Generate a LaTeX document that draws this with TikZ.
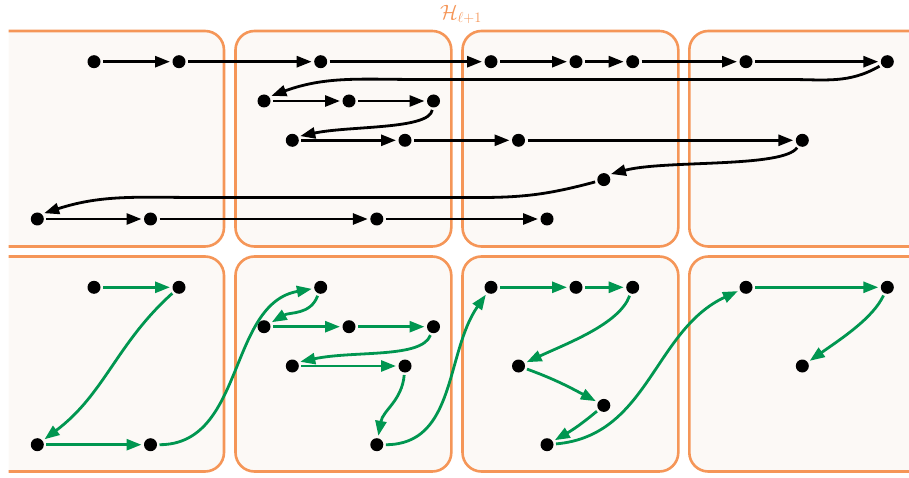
\documentclass[tikz,border=0pt]{standalone}
\usetikzlibrary{arrows.meta}
\definecolor{boxor}{RGB}{245,150,88}
\definecolor{boxfill}{RGB}{252,249,246}
\definecolor{grn}{RGB}{0,150,80}
\tikzset{
  dot/.style={circle,fill=black,inner sep=0pt,minimum size=13pt,outer sep=2.5pt},
  part/.style={draw=boxor,fill=boxfill,line width=2.6pt,rounded corners=19pt},
  blk/.style={line width=2.8pt,-{Triangle[length=15pt,width=11pt]}},
  grnarr/.style={blk,draw=grn,color=grn}
}
\begin{document}
\begin{tikzpicture}[x=1pt,y=1pt]
\useasboundingbox (0,0) rectangle (909,477);
\clip (8.5,0) rectangle (909,477);
% parts, top row
\draw[part] (-30,230.5) rectangle (224,446);
\draw[part] (235.5,230.5) rectangle (451.3,446);
\draw[part] (462.5,230.5) rectangle (678.3,446);
\draw[part] (689.3,230.5) rectangle (940,446);
% parts, bottom row
\draw[part] (-30,5.5) rectangle (224,220.5);
\draw[part] (235.5,5.5) rectangle (451.3,220.5);
\draw[part] (462.5,5.5) rectangle (678.3,220.5);
\draw[part] (689.3,5.5) rectangle (940,220.5);
\node[text=boxor,font=\fontsize{22}{26}\selectfont,inner sep=0pt] (title) at (461,462.5) {$\mathcal{H}_{\ell+1}$};
% top nodes
\node[dot] (t94)  at (94,415.3) {};
\node[dot] (t179) at (179,415.3) {};
\node[dot] (t321) at (320.7,415.3) {};
\node[dot] (t491) at (491,415.3) {};
\node[dot] (t576) at (576,415.3) {};
\node[dot] (t633) at (632.7,415.3) {};
\node[dot] (t746) at (746,415.3) {};
\node[dot] (t887) at (887.3,415.3) {};
\node[dot] (t264) at (264,376) {};
\node[dot] (t349) at (349,376) {};
\node[dot] (t434) at (433.5,376) {};
\node[dot] (t292) at (292.3,336.7) {};
\node[dot] (t405) at (405,336.7) {};
\node[dot] (t518) at (518.5,336.7) {};
\node[dot] (t802) at (802.3,336.7) {};
\node[dot] (t603) at (603.8,297.4) {};
\node[dot] (t37)  at (37.3,258) {};
\node[dot] (t150) at (150.5,258) {};
\node[dot] (t377) at (376.8,258) {};
\node[dot] (t547) at (547,258) {};
% bottom nodes
\node[dot] (b94)  at (94,189.7) {};
\node[dot] (b179) at (179,189.7) {};
\node[dot] (b37)  at (37.3,32.3) {};
\node[dot] (b150) at (150.5,32.3) {};
\node[dot] (b321) at (320.7,189.7) {};
\node[dot] (b264) at (264,150.3) {};
\node[dot] (b349) at (349,150.3) {};
\node[dot] (b434) at (433.5,150.3) {};
\node[dot] (b292) at (292.3,111) {};
\node[dot] (b405) at (405,111) {};
\node[dot] (b377) at (376.8,32.3) {};
\node[dot] (b491) at (491,189.7) {};
\node[dot] (b576) at (576,189.7) {};
\node[dot] (b633) at (632.7,189.7) {};
\node[dot] (b518) at (518.5,111) {};
\node[dot] (b603) at (603.8,71.6) {};
\node[dot] (b547) at (547,32.3) {};
\node[dot] (b746) at (746,189.7) {};
\node[dot] (b887) at (887.3,189.7) {};
\node[dot] (b802) at (802.3,111) {};
% top edges
\draw[blk] (t94) -- (t179);
\draw[blk] (t179) -- (t321);
\draw[blk] (t321) -- (t491);
\draw[blk] (t491) -- (t576);
\draw[blk] (t576) -- (t633);
\draw[blk] (t633) -- (t746);
\draw[blk] (t746) -- (t887);
\draw[blk] (t887) to[out=210,in=0] (790,397.5) -- (420,397.5) to[out=180,in=20] (t264.35);
\draw[blk] (t264) -- (t349);
\draw[blk] (t349) -- (t434);
\draw[blk] (t434) to[out=262,in=12,out distance=20pt,in distance=50pt] (t292.28);
\draw[blk] (t292) -- (t405);
\draw[blk] (t405) -- (t518);
\draw[blk] (t518) -- (t802);
\draw[blk] (t802) to[out=235,in=15,out distance=25pt,in distance=55pt] (t603.38);
\draw[blk] (t603) to[out=195,in=0] (480,279.5) -- (200,279.5) to[out=180,in=18] (t37.40);
\draw[blk] (t37) -- (t150);
\draw[blk] (t150) -- (t377);
\draw[blk] (t377) -- (t547);
% bottom edges
\draw[grnarr] (b94) -- (b179);
\draw[grnarr] (b179) to[out=222,in=37] (b37);
\draw[grnarr] (b37) -- (b150);
\draw[grnarr] (b150) to[out=0,in=190] (b321);
\draw[grnarr] (b321) to[out=250,in=30] (b264);
\draw[grnarr] (b264) -- (b349);
\draw[grnarr] (b349) -- (b434);
\draw[grnarr] (b434) to[out=250,in=12,out distance=25pt,in distance=55pt] (b292.28);
\draw[grnarr] (b292) -- (b405);
\draw[grnarr] (b405) to[out=265,in=80] (b377);
\draw[grnarr] (b377) to[out=0,in=235] (b491);
\draw[grnarr] (b491) -- (b576);
\draw[grnarr] (b576) -- (b633);
\draw[grnarr] (b633) to[out=250,in=25,out distance=30pt,in distance=45pt] (b518);
\draw[grnarr] (b518) to[out=-20,in=152] (b603);
\draw[grnarr] (b603) to[out=220,in=30] (b547);
\draw[grnarr] (b547) to[out=5,in=205] (b746);
\draw[grnarr] (b746) -- (b887);
\draw[grnarr] (b887) to[out=245,in=35,out distance=25pt] (b802);
\end{tikzpicture}
\end{document}
